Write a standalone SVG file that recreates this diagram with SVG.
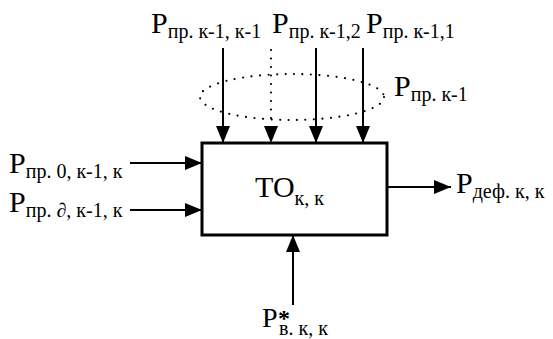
<svg xmlns="http://www.w3.org/2000/svg" width="553" height="339" viewBox="0 0 553 339">
<style>
text{font-family:"Liberation Serif","Times New Roman",serif;fill:#000}
.P{font-size:30px}
.s{font-size:20px}
.ln{stroke:#000;stroke-width:2;fill:none}
.dot{stroke:#000;stroke-width:2.2;fill:none;stroke-dasharray:0 8.5;stroke-linecap:round}
</style>
<defs>
<marker id="ah" viewBox="0 0 17 14" refX="17" refY="7" markerWidth="17" markerHeight="14" markerUnits="userSpaceOnUse" orient="auto">
<path d="M0,0 L17,7 L0,14 Z" fill="#000"/>
</marker>
</defs>
<rect width="553" height="339" fill="#fff"/>
<g id="box">
<rect x="202" y="143" width="185" height="92" fill="#fff" stroke="#000" stroke-width="3"/>
<text x="255" y="197" class="P">ТО<tspan class="s" dy="8">к, к</tspan></text>
</g>
<g id="ellipse">
<ellipse cx="292" cy="97" rx="92" ry="23" class="dot"/>
</g>
<g id="connectors">
<line x1="223" y1="48" x2="223" y2="143" class="ln" marker-end="url(#ah)"/>
<line x1="271" y1="50" x2="271" y2="126" class="dot"/>
<line x1="271" y1="126" x2="271" y2="143" class="ln" stroke-opacity="0" marker-end="url(#ah)"/>
<line x1="316" y1="48" x2="316" y2="143" class="ln" marker-end="url(#ah)"/>
<line x1="363" y1="48" x2="363" y2="143" class="ln" marker-end="url(#ah)"/>
<line x1="130" y1="163" x2="202" y2="163" class="ln" marker-end="url(#ah)"/>
<line x1="130" y1="210" x2="202" y2="210" class="ln" marker-end="url(#ah)"/>
<line x1="387" y1="187" x2="451" y2="187" class="ln" marker-end="url(#ah)"/>
<line x1="293" y1="305" x2="293" y2="235" class="ln" marker-end="url(#ah)"/>
</g>
<g id="label-top1"><text x="151" y="33" class="P">P<tspan class="s" dy="5">пр. к-1, к-1</tspan></text></g>
<g id="label-top2"><text x="272" y="33" class="P">P<tspan class="s" dy="5">пр. к-1,2</tspan></text></g>
<g id="label-top3"><text x="366" y="33" class="P">P<tspan class="s" dy="5">пр. к-1,1</tspan></text></g>
<g id="label-ellipse"><text x="394" y="96" class="P">P<tspan class="s" dy="5">пр. к-1</tspan></text></g>
<g id="label-left1"><text x="9" y="173" class="P">P<tspan class="s" dy="5">пр. 0, к-1, к</tspan></text></g>
<g id="label-left2"><text x="9" y="212" class="P">P<tspan class="s" dy="5">пр. ∂, к-1, к</tspan></text></g>
<g id="label-right"><text x="456" y="193" class="P">P<tspan class="s" dy="5">деф. к, к</tspan></text></g>
<g id="label-bottom"><text x="262" y="327" class="P" style="font-size:28px">P<tspan style="font-size:24px;font-weight:bold" x="278" dy="-1">*</tspan><tspan class="s" x="279" dy="9">в. к, к</tspan></text></g>
</svg>
